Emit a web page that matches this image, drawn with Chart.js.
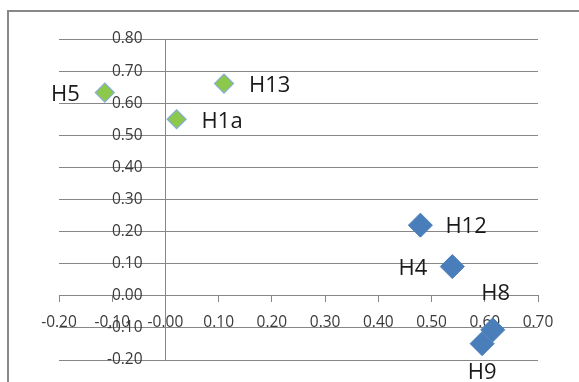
<!DOCTYPE html>
<html>
<head>
<meta charset="utf-8">
<script src="https://cdn.jsdelivr.net/npm/chart.js@4"></script>
<style>
  html, body { margin: 0; padding: 0; background: #fff; }
  #wrap { position: relative; width: 579px; height: 382px; }
</style>
</head>
<body>
<div id="wrap"><canvas id="chart"></canvas></div>
<script>
// Point names and coordinates
const GREEN_NAMES = ["H5", "H13", "H1a"];
const GREEN_X = [-0.114, 0.110, 0.021];
const GREEN_Y = [0.633, 0.661, 0.550];

const BLUE_NAMES = ["H12", "H4", "H8", "H9"];
const BLUE_X = [0.479, 0.539, 0.615, 0.595];
const BLUE_Y = [0.220, 0.091, -0.106, -0.149];

// Axis ranges
const X_MIN = -0.2, X_MAX = 0.7;
const Y_MIN = -0.2, Y_MAX = 0.8;
const TICK_STEP = 0.1;

// Where each label sits next to its point
const LABEL_SIDE = {
  H5: "left", H13: "right", H1a: "right",
  H12: "right", H4: "left", H8: "above", H9: "below",
};

const GRID_COLOR = "#878787";
const TICK_FONT = { family: "'Open Sans'", size: 15.5 };

function toPoints(xs, ys) {
  return xs.map((x, i) => ({ x, y: ys[i] }));
}

// Outer frame of the chart
const framePlugin = {
  id: "frame",
  beforeDraw(chart) {
    const ctx = chart.ctx;
    ctx.save();
    ctx.fillStyle = "#fff";
    ctx.fillRect(0, 0, chart.width, chart.height);
    ctx.strokeStyle = "#888";
    ctx.lineWidth = 2;
    ctx.beginPath();
    ctx.moveTo(8, chart.height + 5);
    ctx.lineTo(8, 11);
    ctx.lineTo(chart.width + 5, 11);
    ctx.stroke();
    ctx.restore();
  },
};

// Name labels beside each point
const pointLabelPlugin = {
  id: "pointLabels",
  afterDatasetsDraw(chart) {
    const ctx = chart.ctx;
    ctx.save();
    ctx.font = "22px 'Open Sans'";
    ctx.fillStyle = "#1a1a1a";
    ctx.textBaseline = "middle";
    chart.data.datasets.forEach((ds, di) => {
      const meta = chart.getDatasetMeta(di);
      meta.data.forEach((el, i) => {
        const name = ds.names[i];
        const side = LABEL_SIDE[name];
        let x = el.x, y = el.y + 2;
        if (side === "right") {
          ctx.textAlign = "left";
          x += 25;
        } else if (side === "left") {
          ctx.textAlign = "right";
          x -= 25;
        } else if (side === "above") {
          ctx.textAlign = "center";
          x += 3;
          y -= 38;
        } else {
          ctx.textAlign = "center";
          y += 27;
        }
        ctx.fillText(name, x, y);
      });
    });
    ctx.restore();
  },
};

document.addEventListener("DOMContentLoaded", () => {
  const canvas = document.getElementById("chart");

  new Chart(canvas, {
    type: "scatter",
    data: {
      datasets: [
        {
          label: "group 1",
          names: GREEN_NAMES,
          data: toPoints(GREEN_X, GREEN_Y),
          pointStyle: "rectRot",
          pointRadius: 9.5,
          backgroundColor: "#8cc84b",
          borderColor: "#86acd9",
          borderWidth: 1.2,
        },
        {
          label: "group 2",
          names: BLUE_NAMES,
          data: toPoints(BLUE_X, BLUE_Y),
          pointStyle: "rectRot",
          pointRadius: 12,
          backgroundColor: "#4a7ebb",
          borderColor: "#4a7ebb",
          borderWidth: 1,
        },
      ],
    },
    options: {
      responsive: true,
      maintainAspectRatio: false,
      animation: false,
      layout: {
        padding: { left: 59, right: 41, top: 39, bottom: 22 },
      },
      plugins: {
        legend: { display: false },
        tooltip: { enabled: false },
      },
      scales: {
        x: {
          type: "linear",
          position: { y: 0 },
          min: X_MIN,
          max: X_MAX,
          ticks: {
            stepSize: TICK_STEP,
            autoSkip: false,
            maxRotation: 0,
            padding: 11,
            color: "#3a3a3a",
            font: TICK_FONT,
            callback: (v) => Number(v).toFixed(2),
          },
          // only the zero line is drawn across the plot: it is the vertical axis
          grid: {
            drawOnChartArea: true,
            drawTicks: true,
            tickLength: 6,
            color: (c) => (c.tick && Math.abs(c.tick.value) < 1e-9 ? GRID_COLOR : "rgba(0,0,0,0)"),
            tickColor: GRID_COLOR,
          },
          border: { display: true, color: GRID_COLOR, width: 1 },
        },
        y: {
          type: "linear",
          // labels sit a little to the left of the zero line
          position: { x: -0.043 },
          min: Y_MIN,
          max: Y_MAX,
          ticks: {
            stepSize: TICK_STEP,
            autoSkip: false,
            color: "#3a3a3a",
            font: TICK_FONT,
            callback: (v) => Number(v).toFixed(2),
          },
          grid: {
            drawTicks: false,
            tickLength: 0,
            color: GRID_COLOR,
          },
          border: { display: false },
        },
      },
    },
    plugins: [framePlugin, pointLabelPlugin],
  });
});
</script>
</body>
</html>
